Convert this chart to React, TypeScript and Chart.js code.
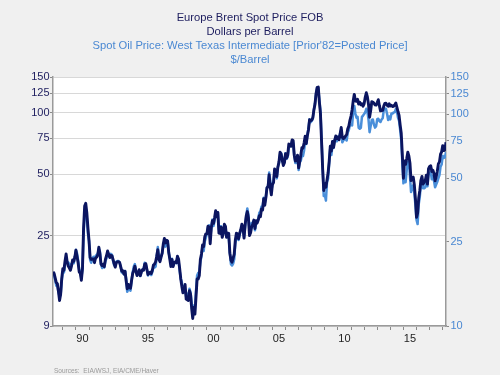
import React, { useEffect, useRef } from 'react';
import { Chart, registerables } from 'chart.js';

Chart.register(...registerables);

const TITLE_BRENT = ['Europe Brent Spot Price FOB', 'Dollars per Barrel'];
const TITLE_WTI = ["Spot Oil Price: West Texas Intermediate [Prior'82=Posted Price]", '$/Barrel'];
const SOURCE = 'Sources:  EIA/WSJ, EIA/CME/Haver';

const START_YEAR = 1988;
const START_MONTH = 4; // April 1988, monthly data
const LEFT_TICKS = [9, 25, 50, 75, 100, 125, 150];
const RIGHT_TICKS = [10, 25, 50, 75, 100, 125, 150];
const YEAR_TICKS = Array.from({ length: 30 }, (_, i) => 1989 + i);
const YEAR_LABELS = [1990, 1995, 2000, 2005, 2010, 2015];

// Europe Brent spot price, $/bbl, monthly (Apr 1988 – Apr 2018)
const brent = [
  16.6, 16.3, 15.5, 14.7, 14.5, 13.3, 12.0, 12.9, 15.4,
  17.2, 16.9, 18.7, 20.3, 18.5, 17.7, 17.3, 16.9, 17.8, 19.0, 18.7, 19.6,
  21.2, 19.8, 18.4, 16.6, 16.3, 15.1, 17.2, 27.2, 34.9, 36.0, 32.3, 27.3,
  23.6, 19.5, 19.1, 19.2, 19.2, 18.4, 19.4, 19.6, 20.1, 21.9, 20.3, 18.1,
  17.8, 18.1, 17.6, 19.1, 19.9, 21.0, 20.2, 19.5, 20.0, 19.9, 19.1, 18.2,
  17.5, 18.4, 18.6, 18.6, 18.5, 17.6, 16.7, 16.8, 16.2, 16.7, 15.0, 13.7,
  14.4, 13.9, 13.8, 15.1, 16.3, 16.9, 17.7, 16.7, 15.9, 16.3, 17.0, 15.9,
  16.6, 17.0, 16.9, 18.1, 18.2, 17.1, 16.1, 16.3, 16.5, 16.3, 16.9, 17.9,
  18.1, 18.6, 19.8, 21.3, 19.1, 18.6, 19.6, 20.5, 22.7, 24.2, 23.0, 23.7,
  23.5, 20.7, 19.1, 17.6, 19.1, 17.6, 18.4, 18.6, 18.4, 19.8, 19.2, 17.3,
  15.4, 14.1, 13.1, 13.4, 14.4, 12.2, 12.1, 12.0, 13.4, 12.9, 11.0, 9.8,
  11.1, 10.3, 12.5, 15.3, 15.3, 15.9, 19.1, 20.3, 22.5, 22.1, 24.6, 25.5,
  25.5, 27.8, 27.5, 22.8, 27.3, 29.6, 28.7, 30.6, 33.1, 30.9, 32.5, 25.7,
  25.6, 27.5, 24.5, 25.7, 28.4, 27.7, 24.5, 25.7, 25.6, 20.5, 18.9, 18.5,
  19.4, 20.3, 23.7, 25.7, 25.4, 24.1, 25.7, 26.7, 28.4, 27.5, 24.3, 28.3,
  31.2, 32.8, 30.6, 25.0, 25.8, 27.6, 28.4, 29.8, 27.1, 29.6, 28.8, 29.8,
  31.3, 30.9, 33.8, 33.4, 37.9, 35.2, 38.4, 43.0, 43.4, 49.8, 43.1, 39.6,
  44.5, 45.5, 53.1, 51.9, 48.7, 54.3, 57.5, 64.1, 62.7, 58.5, 55.2, 56.9,
  63.1, 60.0, 62.1, 70.3, 69.8, 68.6, 73.7, 73.2, 62.0, 58.0, 58.8, 62.0,
  53.7, 57.6, 62.1, 67.5, 67.2, 71.1, 76.9, 70.8, 77.2, 82.4, 92.5, 91.5,
  92.2, 94.8, 103.3, 110.4, 124.6, 133.5, 133.9, 113.0, 99.1, 72.8, 53.2, 41.6,
  44.9, 43.2, 46.8, 50.8, 57.9, 68.6, 64.9, 72.5, 67.7, 73.2, 77.0, 74.7,
  76.2, 73.8, 78.8, 84.8, 75.9, 74.8, 75.6, 77.1, 78.2, 83.5, 86.1, 92.0,
  96.5, 103.7, 114.6, 123.3, 114.5, 113.9, 116.5, 110.4, 112.8, 109.6, 110.8, 107.9,
  110.7, 119.3, 125.5, 119.8, 110.3, 95.2, 102.6, 113.4, 113.0, 111.5, 109.5, 109.2,
  112.3, 116.1, 108.5, 102.3, 102.6, 102.9, 107.9, 111.3, 111.6, 109.1, 107.8, 110.8,
  108.1, 108.9, 107.5, 107.8, 109.5, 111.9, 106.8, 101.6, 97.1, 87.4, 79.4, 62.3,
  47.8, 58.1, 55.9, 59.5, 64.1, 61.5, 56.6, 46.5, 47.6, 48.4, 44.3, 38.0,
  30.7, 32.2, 38.2, 41.6, 46.7, 48.8, 44.7, 45.7, 46.6, 49.5, 44.7, 53.3,
  54.6, 55.0, 51.6, 52.3, 50.3, 46.4, 48.5, 51.7, 56.2, 57.5, 62.7, 64.4,
  69.1, 65.3, 66.0, 71.8,
];

// WTI spot price, $/bbl, monthly (Apr 1988 – Apr 2018)
const wti = [
  17.9, 17.4, 16.5, 15.5, 15.5, 14.5, 13.8, 14.0, 16.3,
  18.0, 17.9, 19.4, 21.0, 20.0, 20.0, 19.6, 18.5, 19.6, 20.1, 19.8, 21.1,
  22.9, 22.1, 20.4, 18.4, 18.2, 16.9, 18.6, 27.2, 33.7, 35.9, 32.3, 27.3,
  25.2, 20.5, 19.9, 20.8, 21.2, 20.2, 21.4, 21.7, 21.9, 23.2, 22.5, 19.5,
  18.8, 19.0, 18.9, 20.2, 20.9, 22.4, 21.8, 21.4, 21.9, 21.7, 20.3, 19.4,
  19.1, 20.1, 20.3, 20.3, 19.9, 19.1, 17.9, 18.0, 17.5, 18.2, 16.7, 14.5,
  15.0, 14.8, 14.7, 16.4, 17.9, 19.1, 19.6, 18.4, 17.5, 17.7, 18.1, 17.2,
  18.0, 18.5, 18.6, 19.9, 19.7, 18.5, 17.3, 17.9, 18.0, 17.4, 18.0, 19.0,
  18.9, 19.1, 21.4, 23.6, 21.3, 20.5, 21.3, 22.0, 24.0, 24.9, 23.7, 25.4,
  25.2, 22.2, 21.0, 19.7, 20.8, 19.3, 19.7, 19.9, 19.8, 21.3, 20.2, 18.3,
  16.7, 16.1, 15.0, 15.4, 14.9, 13.7, 14.2, 13.5, 15.0, 14.4, 12.9, 11.3,
  12.5, 12.0, 14.7, 17.3, 17.8, 17.9, 20.1, 21.3, 23.9, 22.6, 25.0, 26.1,
  27.3, 29.4, 29.9, 25.7, 28.8, 31.8, 29.7, 31.3, 33.9, 33.1, 34.4, 28.5,
  29.6, 29.6, 27.2, 27.4, 28.6, 27.6, 26.4, 27.4, 26.2, 22.2, 19.6, 19.3,
  19.7, 20.7, 24.5, 26.2, 27.0, 25.5, 27.0, 28.3, 29.7, 28.9, 26.3, 29.4,
  32.9, 35.9, 33.6, 28.3, 28.1, 30.7, 30.8, 31.6, 28.3, 30.3, 31.1, 32.1,
  34.3, 34.7, 36.7, 36.7, 40.3, 38.0, 40.7, 44.9, 46.0, 53.1, 48.5, 43.3,
  46.8, 48.0, 54.3, 53.0, 49.8, 56.3, 58.7, 65.0, 65.6, 62.4, 58.3, 59.4,
  65.5, 61.6, 62.9, 69.4, 70.8, 70.9, 74.4, 73.0, 63.8, 58.9, 59.1, 62.0,
  54.5, 59.3, 60.4, 64.0, 63.5, 67.5, 74.1, 72.4, 79.9, 85.8, 94.8, 91.7,
  93.0, 95.4, 105.5, 112.6, 125.4, 133.9, 133.4, 116.7, 104.1, 76.6, 57.3, 41.1,
  41.7, 39.1, 47.9, 49.7, 59.0, 69.6, 64.2, 71.1, 69.4, 75.7, 78.0, 74.5,
  78.3, 76.4, 81.2, 84.3, 73.7, 75.3, 76.3, 76.6, 75.2, 81.9, 84.3, 89.2,
  89.2, 88.6, 102.9, 109.5, 100.9, 96.3, 97.3, 86.3, 85.5, 86.3, 97.2, 98.6,
  100.3, 102.2, 106.2, 103.3, 94.7, 82.3, 87.9, 94.1, 94.5, 89.5, 86.5, 87.9,
  94.8, 95.3, 92.9, 92.0, 94.5, 95.8, 104.6, 106.6, 106.3, 100.5, 93.9, 97.6,
  94.6, 100.8, 100.8, 102.1, 102.2, 105.8, 103.6, 96.5, 93.2, 84.4, 75.8, 59.3,
  47.2, 50.6, 47.8, 54.5, 59.3, 59.8, 50.9, 42.9, 45.5, 46.2, 42.4, 37.2,
  31.7, 30.3, 37.6, 40.8, 46.7, 48.8, 44.7, 44.7, 45.2, 49.8, 45.7, 52.0,
  52.5, 53.5, 49.3, 51.1, 48.5, 45.2, 46.6, 48.0, 49.8, 51.6, 56.6, 57.9,
  63.7, 62.2, 62.7, 66.3,
];

const NAVY = '#0b1560';
const BLUE = '#4a8fda';
const NAVY_TXT = '#1d1d5e';
const BLUE_TXT = '#4a88d2';
const AXIS = '#9a9a9a';
const TICK = '#8a8a8a';
const GRID = '#d8d8d8';
const FONT = "'Liberation Sans', Arial, sans-serif";

const monthX = (i: number) => START_YEAR + (START_MONTH - 1 + i) / 12;

const decor = {
  id: 'decor',
  beforeDraw(chart: any) {
    const { ctx, chartArea: a, width, height } = chart;
    ctx.save();
    ctx.fillStyle = '#f0f0f0';
    ctx.fillRect(0, 0, width, height);
    ctx.fillStyle = '#ffffff';
    ctx.fillRect(a.left, a.top, a.right - a.left, a.bottom - a.top);
    ctx.restore();
  },
  afterDraw(chart: any) {
    const { ctx } = chart;
    ctx.save();
    ctx.textAlign = 'center';
    ctx.textBaseline = 'middle';
    ctx.font = `11.2px ${FONT}`;
    ctx.fillStyle = NAVY_TXT;
    ctx.fillText(TITLE_BRENT[0], 250, 17.5);
    ctx.fillText(TITLE_BRENT[1], 250, 31.5);
    ctx.fillStyle = BLUE_TXT;
    ctx.fillText(TITLE_WTI[0], 250, 45.5);
    ctx.fillText(TITLE_WTI[1], 250, 59.5);
    ctx.textAlign = 'left';
    ctx.font = `6.5px ${FONT}`;
    ctx.fillStyle = '#9a9a9a';
    ctx.fillText(SOURCE, 54, 371);
    ctx.restore();
  },
};

export default function App() {
  const ref = useRef<HTMLCanvasElement>(null);
  useEffect(() => {
    document.body.style.margin = '0';
    Chart.defaults.font.family = FONT;
    const chart = new Chart(ref.current as HTMLCanvasElement, {
      type: 'line',
      data: {
        datasets: [
          {
            label: 'Europe Brent Spot Price FOB',
            data: brent.map((v, i) => ({ x: monthX(i), y: v })),
            yAxisID: 'y',
            borderColor: NAVY,
            borderWidth: 2.9,
            pointRadius: 0,
            tension: 0,
            borderJoinStyle: 'round',
          },
          {
            label: 'Spot Oil Price: West Texas Intermediate',
            data: wti.map((v, i) => ({ x: monthX(i), y: v })),
            yAxisID: 'y1',
            borderColor: BLUE,
            borderWidth: 2.5,
            pointRadius: 0,
            tension: 0,
            borderJoinStyle: 'round',
          },
        ],
      },
      options: {
        responsive: false,
        animation: false,
        layout: { padding: { top: 77, left: 0, right: 0, bottom: 0 } },
        plugins: {
          legend: { display: false },
          tooltip: { enabled: false },
          title: { display: false },
        },
        scales: {
          x: {
            type: 'linear',
            position: 'bottom',
            min: START_YEAR + (START_MONTH - 1) / 12,
            max: monthX(brent.length - 1),
            bounds: 'data',
            afterBuildTicks: (s: any) => {
              s.ticks = YEAR_TICKS.map((v) => ({ value: v }));
            },
            afterFit: (s: any) => {
              s.height = 49;
            },
            grid: { drawOnChartArea: false, drawTicks: true, tickLength: 4, tickColor: TICK, lineWidth: 1 },
            border: { display: true, color: AXIS, width: 1.5 },
            ticks: {
              autoSkip: false,
              maxRotation: 0,
              padding: 2,
              labelOffset: 6.55,
              color: '#222222',
              font: { size: 11, family: FONT },
              callback: (v: any) => (YEAR_LABELS.includes(Number(v)) ? String(Number(v) % 100).padStart(2, '0') : ''),
            },
          },
          y: {
            type: 'logarithmic',
            position: 'left',
            min: 9,
            max: 150,
            bounds: 'data',
            afterBuildTicks: (s: any) => {
              s.ticks = LEFT_TICKS.map((v) => ({ value: v }));
            },
            afterFit: (s: any) => {
              s.width = 53;
            },
            grid: { color: GRID, lineWidth: 1, drawTicks: true, tickLength: 3, tickColor: TICK },
            border: { display: true, color: AXIS, width: 1.5 },
            ticks: {
              padding: 0.5,
              color: NAVY_TXT,
              font: { size: 11, family: FONT },
              callback: (v: any) => String(v),
            },
          },
          y1: {
            type: 'logarithmic',
            position: 'right',
            min: 10,
            max: 150,
            bounds: 'data',
            afterBuildTicks: (s: any) => {
              s.ticks = RIGHT_TICKS.map((v) => ({ value: v }));
            },
            afterFit: (s: any) => {
              s.width = 54;
            },
            grid: { drawOnChartArea: false, drawTicks: true, tickLength: 3, tickColor: TICK },
            border: { display: true, color: AXIS, width: 1.5 },
            ticks: {
              padding: 1.5,
              color: BLUE_TXT,
              font: { size: 11, family: FONT },
              callback: (v: any) => String(v),
            },
          },
        },
      } as any,
      plugins: [decor],
    });
    return () => chart.destroy();
  }, []);
  return <canvas ref={ref} width={500} height={375} style={{ display: 'block' }} />;
}
